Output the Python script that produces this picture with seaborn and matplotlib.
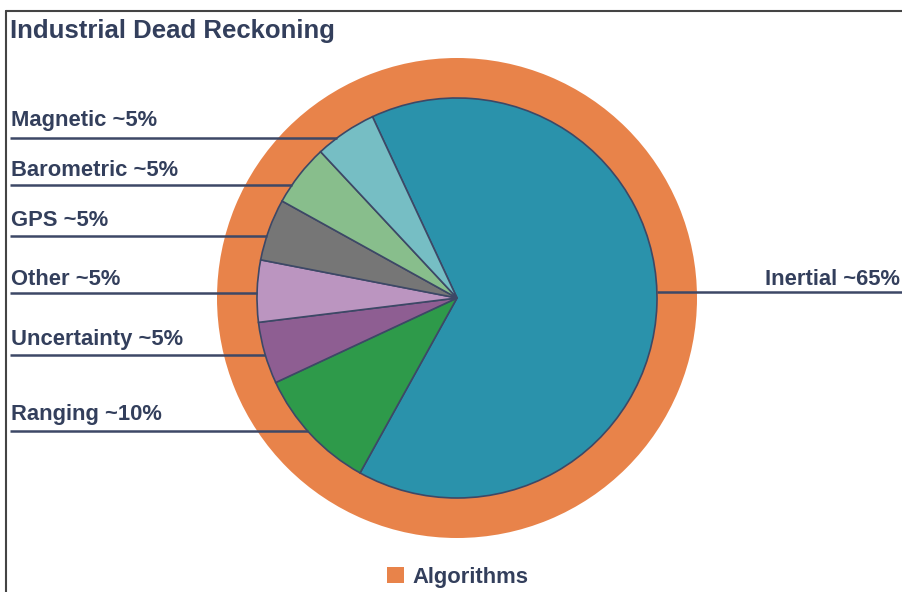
import numpy as np
import matplotlib
matplotlib.use("Agg")
import matplotlib.pyplot as plt
from matplotlib.lines import Line2D
import seaborn as sns

# ---- data ----
categories = ["Inertial", "Ranging", "Uncertainty", "Other", "GPS", "Barometric", "Magnetic"]
shares = [65, 10, 5, 5, 5, 5, 5]
labels = ["Inertial ~65%", "Ranging ~10%", "Uncertainty ~5%", "Other ~5%",
          "GPS ~5%", "Barometric ~5%", "Magnetic ~5%"]
slice_colors = ["#2A92AB", "#2E9A4A", "#8E5E92", "#BB95C0", "#767676", "#88BE8C", "#76BEC4"]
ring_label = "Algorithms"
ring_value = [100]
ring_color = "#E8834A"
title = "Industrial Dead Reckoning"

# ---- layout (pixels) ----
W, H = 903, 592
cx, cy_px = 457, 298
r_in, r_out = 200, 240
navy = "#333F5C"
line_col = "#3D4866"
# label baseline (pixel y) and leader line pixel y, in the order of `labels`
label_base_px = [285, 420, 345, 285, 226, 176, 126]
line_px = [292, 431, 355, 293, 236, 185, 138]
label_fs = 15.8

sns.set_theme(style="white")
plt.rcParams['font.family'] = ['Liberation Sans', 'DejaVu Sans']

fig = plt.figure(figsize=(W / 100, H / 100), dpi=100)
ax = fig.add_axes([0, 0, 1, 1])
ax.set_xlim(0, W)
ax.set_ylim(0, H)
ax.set_aspect('equal', adjustable='datalim')
ax.axis('off')

def py(y):
    return H - y

cy = py(cy_px)

ring, _ = ax.pie(ring_value, radius=r_out, center=(cx, cy), colors=[ring_color],
                 labels=None, wedgeprops=dict(linewidth=0), frame=False)
ring[0].set_label(ring_label)
ax.pie(shares, radius=r_in, center=(cx, cy), colors=slice_colors,
       startangle=115, counterclock=False,
       wedgeprops=dict(edgecolor=line_col, linewidth=1.2), frame=False)
ax.set_xlim(0, W)
ax.set_ylim(0, H)

# leader lines + labels
for i, lab in enumerate(labels):
    ly = py(line_px[i])
    dy = ly - cy
    dx = np.sqrt(max(r_in ** 2 - dy ** 2, 0))
    if i == 0:
        x0, x1 = cx + dx, W
        ax.plot([x0, x1], [ly, ly], color=line_col, lw=1.8, solid_capstyle='butt', zorder=5)
        ax.text(900, py(label_base_px[i]), lab, ha='right', va='baseline',
                fontsize=label_fs, fontweight='bold', color=navy)
    else:
        x0, x1 = 10, cx - dx
        ax.plot([x0, x1], [ly, ly], color=line_col, lw=1.8, solid_capstyle='butt', zorder=5)
        ax.text(11, py(label_base_px[i]), lab, ha='left', va='baseline',
                fontsize=label_fs, fontweight='bold', color=navy)

# title
ax.text(10, py(38), title, ha='left', va='baseline', fontsize=18.5,
        fontweight='bold', color=navy)

# legend
leg = ax.legend(handles=[ring[0]], loc='center', bbox_to_anchor=(458 / W, 1 - 577 / H),
                frameon=False, handlelength=0.75, handleheight=0.75, handletextpad=0.4,
                prop=dict(size=label_fs, weight='bold'))
for t in leg.get_texts():
    t.set_color(navy)

# frame lines
fig.add_artist(Line2D([6 / W, 1], [1 - 11 / H, 1 - 11 / H], transform=fig.transFigure,
                      color="#444444", lw=1.5))
fig.add_artist(Line2D([6 / W, 6 / W], [0, 1 - 11 / H], transform=fig.transFigure,
                      color="#444444", lw=1.5))

fig.savefig("out.png", dpi=100)
